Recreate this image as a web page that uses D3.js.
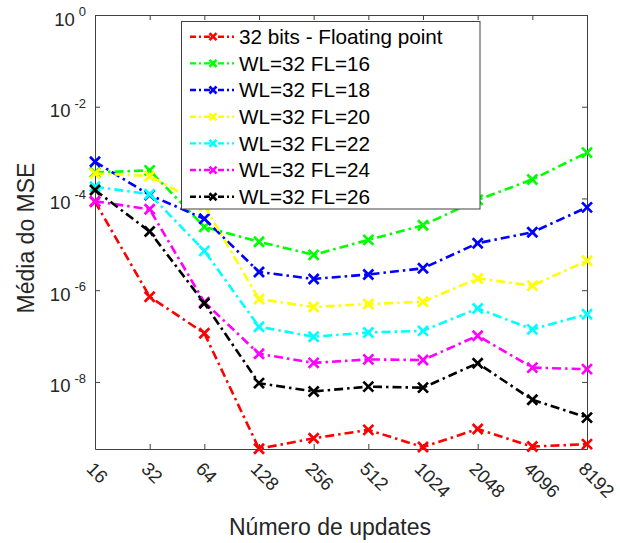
<!DOCTYPE html>
<html>
<head>
<meta charset="utf-8">
<script src="https://cdn.jsdelivr.net/npm/d3@7/dist/d3.min.js"></script>
<style>
body { margin: 0; background: #fff; }
text { font-family: "Liberation Sans", Arial, Helvetica, sans-serif; }
</style>
</head>
<body>
<div id="chart"></div>
<script>
// Data
var updates = [16, 32, 64, 128, 256, 512, 1024, 2048, 4096, 8192];
var seriesNames = ["32 bits - Floating point", "WL=32 FL=16", "WL=32 FL=18", "WL=32 FL=20",
                   "WL=32 FL=22", "WL=32 FL=24", "WL=32 FL=26"];
var mseFloat = [8.5e-5, 7.2e-7, 1.15e-7, 3.5e-10, 5.9e-10, 9.0e-10, 3.8e-10, 9.4e-10, 3.9e-10, 4.4e-10];
var mseFL16  = [3.7e-4, 4.1e-4, 2.4e-5, 1.14e-5, 5.9e-6, 1.25e-5, 2.6e-5, 9.3e-5, 2.6e-4, 1.0e-3];
var mseFL18  = [6.3e-4, 1.19e-4, 3.6e-5, 2.5e-6, 1.76e-6, 2.2e-6, 3.0e-6, 1.06e-5, 1.83e-5, 6.4e-5];
var mseFL20  = [3.5e-4, 3.1e-4, 6.9e-5, 6.4e-7, 4.3e-7, 5.0e-7, 5.6e-7, 1.8e-6, 1.26e-6, 4.4e-6];
var mseFL22  = [1.8e-4, 1.24e-4, 7.2e-6, 1.6e-7, 9.7e-8, 1.2e-7, 1.3e-7, 4.0e-7, 1.4e-7, 3.0e-7];
var mseFL24  = [8.7e-5, 5.8e-5, 5.5e-7, 4.1e-8, 2.6e-8, 3.1e-8, 3.0e-8, 1.02e-7, 2.05e-8, 1.9e-8];
var mseFL26  = [1.53e-4, 1.9e-5, 5.2e-7, 9.4e-9, 6.2e-9, 7.9e-9, 7.5e-9, 2.56e-8, 4.1e-9, 1.67e-9];
var yTicks = [1e-8, 1e-6, 1e-4, 1e-2, 1];
var yExponents = ["-8", "-6", "-4", "-2", "0"];

var allSeries = [mseFloat, mseFL16, mseFL18, mseFL20, mseFL22, mseFL24, mseFL26];
var colors = ["#ff0000", "#00ff00", "#0000ff", "#ffff00", "#00ffff", "#ff00ff", "#000000"];

var W = 620, H = 543;
var pLeft = 95, pRight = 587, pTop = 15, pBottom = 449;
var axisColor = "#404040";
var dash = "9,4,2.5,4";

var svg = d3.select("#chart").append("svg").attr("width", W).attr("height", H);

var x = d3.scaleLog().base(2).domain([16, 8192]).range([pLeft, pRight]);
var y = d3.scaleLog().domain([3.45e-10, 1]).range([pBottom, pTop]);

// axes (ticks inside, MATLAB style box)
var gx = svg.append("g").attr("transform", "translate(0," + pBottom + ")")
  .call(d3.axisBottom(x).tickValues(updates).tickFormat(d3.format("d")).tickSizeInner(-5).tickSizeOuter(0));
gx.selectAll("text")
  .attr("x", 0).attr("y", 0).attr("dy", null)
  .attr("text-anchor", "start")
  .attr("transform", "translate(-10,21) rotate(45)")
  .style("font-size", "18.5px").style("fill", "#262626");

svg.append("g").attr("transform", "translate(0," + pTop + ")")
  .call(d3.axisTop(x).tickValues(updates).tickFormat("").tickSizeInner(-5).tickSizeOuter(0));

var gy = svg.append("g").attr("transform", "translate(" + pLeft + ",0)")
  .call(d3.axisLeft(y).tickValues(yTicks).tickFormat("").tickSizeInner(-5).tickSizeOuter(0));
gy.selectAll(".tick").each(function(d, i) {
  var t = d3.select(this).append("text")
    .attr("x", -9).attr("y", 10)
    .attr("text-anchor", "end")
    .style("fill", "#262626").style("font-size", "18.5px");
  t.append("tspan").text("10");
  t.append("tspan").attr("dx", 4).attr("dy", -9.5).style("font-size", "13px").text(yExponents[i]);
});

svg.append("g").attr("transform", "translate(" + pRight + ",0)")
  .call(d3.axisRight(y).tickValues(yTicks).tickFormat("").tickSizeInner(-5).tickSizeOuter(0));

svg.selectAll(".domain, .tick line").style("stroke", axisColor).style("stroke-width", 1);

// series
var line = d3.line().x(function(d, i) { return x(updates[i]); }).y(function(d) { return y(d); });

function cross(sel, r) {
  return sel.attr("d", "M" + (-r) + "," + (-r) + "L" + r + "," + r + "M" + (-r) + "," + r + "L" + r + "," + (-r));
}

allSeries.forEach(function(s, k) {
  svg.append("path").datum(s).attr("d", line)
    .style("fill", "none").style("stroke", colors[k]).style("stroke-width", 2.6)
    .style("stroke-dasharray", dash);
  svg.append("g").selectAll("path").data(s).enter().append("path")
    .attr("transform", function(d, i) { return "translate(" + x(updates[i]) + "," + y(d) + ")"; })
    .call(cross, 5)
    .style("fill", "none").style("stroke", colors[k]).style("stroke-width", 2.7);
});

// legend
var lg = svg.append("g");
lg.append("rect").attr("x", 181.5).attr("y", 21.5).attr("width", 298.5).attr("height", 187.5)
  .style("fill", "#fff").style("stroke", axisColor).style("stroke-width", 1);
var lEnter = lg.selectAll("g.item").data(seriesNames).enter().append("g")
  .attr("transform", function(d, i) { return "translate(0," + (36.7 + i * 26.67) + ")"; });
lEnter.append("line")
  .attr("x1", 190).attr("x2", 234).attr("y1", 0).attr("y2", 0)
  .style("stroke", function(d, i) { return colors[i]; }).style("stroke-width", 2.4)
  .style("stroke-dasharray", "6,3,2,3");
lEnter.append("path").attr("transform", "translate(213,0)").call(cross, 3.5)
  .style("fill", "none").style("stroke", function(d, i) { return colors[i]; }).style("stroke-width", 2.6);
lEnter.append("text").attr("x", 239).attr("y", 0).attr("dy", "0.35em")
  .style("font-size", "20.7px").style("fill", "#000").text(String);

// axis titles
svg.append("text").attr("x", 330).attr("y", 535).attr("text-anchor", "middle")
  .style("font-size", "23px").style("fill", "#262626").text("Número de updates");
svg.append("text").attr("transform", "translate(33.5,238) rotate(-90)")
  .attr("text-anchor", "middle")
  .style("font-size", "23px").style("fill", "#262626").text("Média do MSE");
</script>
</body>
</html>
